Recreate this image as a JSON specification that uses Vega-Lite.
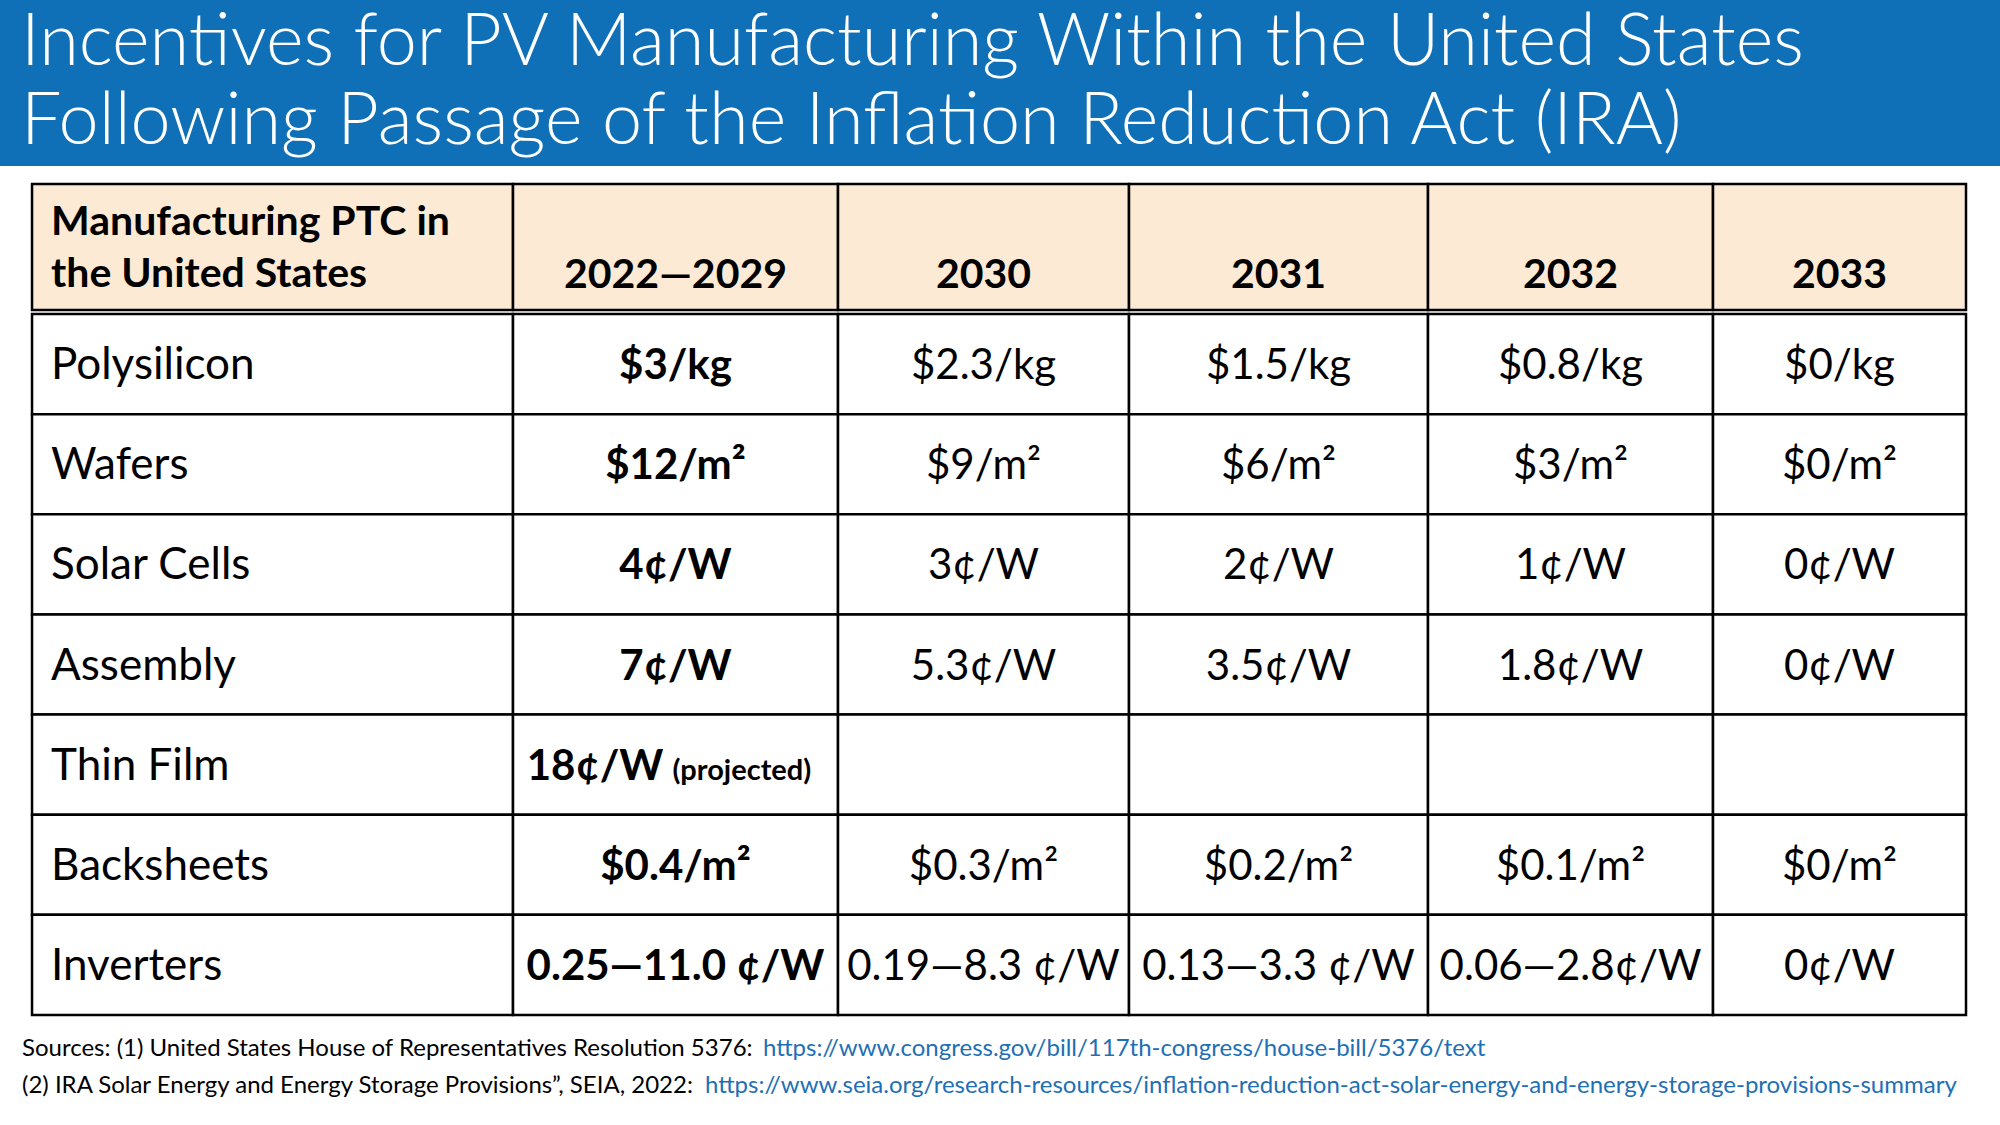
{
  "$schema": "https://vega.github.io/schema/vega-lite/v6.json",
  "padding": 0,
  "background": "white",
  "spacing": 0,
  "config": {"view": {"stroke": null}},
  "datasets": {
    "title": [
      {"line": 1, "text": "Incentives for PV Manufacturing Within the United States"},
      {"line": 2, "text": "Following Passage of the Inflation Reduction Act (IRA)"}
    ],
    "header": [
      {"col": 0, "label": "Manufacturing PTC in\nthe United States"},
      {"col": 1, "label": "2022—2029"},
      {"col": 2, "label": "2030"},
      {"col": 3, "label": "2031"},
      {"col": 4, "label": "2032"},
      {"col": 5, "label": "2033"}
    ],
    "table": [
      {"component": "Polysilicon", "period": "2022—2029", "value": "$3/kg"},
      {"component": "Wafers", "period": "2022—2029", "value": "$12/m²"},
      {"component": "Solar Cells", "period": "2022—2029", "value": "4¢/W"},
      {"component": "Assembly", "period": "2022—2029", "value": "7¢/W"},
      {"component": "Thin Film", "period": "2022—2029", "value": "18¢/W", "note": "(projected)"},
      {"component": "Backsheets", "period": "2022—2029", "value": "$0.4/m²"},
      {"component": "Inverters", "period": "2022—2029", "value": "0.25—11.0 ¢/W"},
      {"component": "Polysilicon", "period": "2030", "value": "$2.3/kg"},
      {"component": "Wafers", "period": "2030", "value": "$9/m²"},
      {"component": "Solar Cells", "period": "2030", "value": "3¢/W"},
      {"component": "Assembly", "period": "2030", "value": "5.3¢/W"},
      {"component": "Thin Film", "period": "2030", "value": ""},
      {"component": "Backsheets", "period": "2030", "value": "$0.3/m²"},
      {"component": "Inverters", "period": "2030", "value": "0.19—8.3 ¢/W"},
      {"component": "Polysilicon", "period": "2031", "value": "$1.5/kg"},
      {"component": "Wafers", "period": "2031", "value": "$6/m²"},
      {"component": "Solar Cells", "period": "2031", "value": "2¢/W"},
      {"component": "Assembly", "period": "2031", "value": "3.5¢/W"},
      {"component": "Thin Film", "period": "2031", "value": ""},
      {"component": "Backsheets", "period": "2031", "value": "$0.2/m²"},
      {"component": "Inverters", "period": "2031", "value": "0.13—3.3 ¢/W"},
      {"component": "Polysilicon", "period": "2032", "value": "$0.8/kg"},
      {"component": "Wafers", "period": "2032", "value": "$3/m²"},
      {"component": "Solar Cells", "period": "2032", "value": "1¢/W"},
      {"component": "Assembly", "period": "2032", "value": "1.8¢/W"},
      {"component": "Thin Film", "period": "2032", "value": ""},
      {"component": "Backsheets", "period": "2032", "value": "$0.1/m²"},
      {"component": "Inverters", "period": "2032", "value": "0.06—2.8¢/W"},
      {"component": "Polysilicon", "period": "2033", "value": "$0/kg"},
      {"component": "Wafers", "period": "2033", "value": "$0/m²"},
      {"component": "Solar Cells", "period": "2033", "value": "0¢/W"},
      {"component": "Assembly", "period": "2033", "value": "0¢/W"},
      {"component": "Thin Film", "period": "2033", "value": ""},
      {"component": "Backsheets", "period": "2033", "value": "$0/m²"},
      {"component": "Inverters", "period": "2033", "value": "0¢/W"}
    ],
    "notes": [
      {"line": 1, "label": "Sources: (1) United States House of Representatives Resolution 5376:", "link": "https://www.congress.gov/bill/117th-congress/house-bill/5376/text"},
      {"line": 2, "label": "(2) IRA Solar Energy and Energy Storage Provisions”, SEIA, 2022:", "link": "https://www.seia.org/research-resources/inflation-reduction-act-solar-energy-and-energy-storage-provisions-summary"}
    ]
  },
  "vconcat": [
    {
      "width": 2000,
      "height": 166,
      "view": {"fill": "#0F70B7", "stroke": null},
      "data": {"name": "title"},
      "mark": {"type": "text", "align": "left", "baseline": "alphabetic", "font": "Lato", "fontWeight": 300, "fontSize": 72, "color": "white", "x": 21, "dy": 21.5},
      "encoding": {
        "y": {"field": "line", "type": "ordinal", "axis": null, "scale": {"type": "point", "padding": 0.564}},
        "text": {"field": "text"}
      }
    },
    {
      "hconcat": [
        {
          "width": 513, "height": 144,
          "data": {"name": "header"},
          "transform": [{"filter": "datum.col == 0"}],
          "layer": [
            {"mark": {"type": "rect", "fill": "#FDEAD5", "stroke": "black", "strokeWidth": 2.5},
             "encoding": {
               "x": {"field": "col", "type": "nominal", "axis": null, "scale": {"paddingInner": 0, "paddingOuter": 0.0333, "align": 1}},
               "y": {"field": "col", "type": "nominal", "axis": null, "scale": {"paddingInner": 0, "paddingOuter": 0.0714, "align": 1}}}},
            {"mark": {"type": "text", "align": "left", "baseline": "alphabetic", "font": "Lato", "fontWeight": "bold", "fontSize": 41, "lineBreak": "\n", "lineHeight": 52, "dx": 19, "dy": -12, "color": "black"},
             "encoding": {
               "x": {"field": "col", "type": "nominal", "axis": null, "bandPosition": 0, "scale": {"paddingInner": 0, "paddingOuter": 0.0333, "align": 1}},
               "y": {"field": "col", "type": "nominal", "axis": null, "scale": {"paddingInner": 0, "paddingOuter": 0.0714, "align": 1}},
               "text": {"field": "label"}}}
          ]
        },
        {
          "width": 325, "height": 144,
          "data": {"name": "header"},
          "transform": [{"filter": "datum.col == 1"}],
          "layer": [
            {"mark": {"type": "rect", "fill": "#FDEAD5", "stroke": "black", "strokeWidth": 2.5},
             "encoding": {"y": {"field": "col", "type": "nominal", "axis": null, "scale": {"paddingInner": 0, "paddingOuter": 0.0714, "align": 1}}}},
            {"mark": {"type": "text", "align": "center", "baseline": "alphabetic", "font": "Lato", "fontWeight": "bold", "fontSize": 41, "dy": 41, "color": "black"},
             "encoding": {"y": {"field": "col", "type": "nominal", "axis": null, "scale": {"paddingInner": 0, "paddingOuter": 0.0714, "align": 1}}, "text": {"field": "label"}}}
          ]
        },
        {
          "width": 291, "height": 144,
          "data": {"name": "header"},
          "transform": [{"filter": "datum.col == 2"}],
          "layer": [
            {"mark": {"type": "rect", "fill": "#FDEAD5", "stroke": "black", "strokeWidth": 2.5},
             "encoding": {"y": {"field": "col", "type": "nominal", "axis": null, "scale": {"paddingInner": 0, "paddingOuter": 0.0714, "align": 1}}}},
            {"mark": {"type": "text", "align": "center", "baseline": "alphabetic", "font": "Lato", "fontWeight": "bold", "fontSize": 41, "dy": 41, "color": "black"},
             "encoding": {"y": {"field": "col", "type": "nominal", "axis": null, "scale": {"paddingInner": 0, "paddingOuter": 0.0714, "align": 1}}, "text": {"field": "label"}}}
          ]
        },
        {
          "width": 299, "height": 144,
          "data": {"name": "header"},
          "transform": [{"filter": "datum.col == 3"}],
          "layer": [
            {"mark": {"type": "rect", "fill": "#FDEAD5", "stroke": "black", "strokeWidth": 2.5},
             "encoding": {"y": {"field": "col", "type": "nominal", "axis": null, "scale": {"paddingInner": 0, "paddingOuter": 0.0714, "align": 1}}}},
            {"mark": {"type": "text", "align": "center", "baseline": "alphabetic", "font": "Lato", "fontWeight": "bold", "fontSize": 41, "dy": 41, "color": "black"},
             "encoding": {"y": {"field": "col", "type": "nominal", "axis": null, "scale": {"paddingInner": 0, "paddingOuter": 0.0714, "align": 1}}, "text": {"field": "label"}}}
          ]
        },
        {
          "width": 285, "height": 144,
          "data": {"name": "header"},
          "transform": [{"filter": "datum.col == 4"}],
          "layer": [
            {"mark": {"type": "rect", "fill": "#FDEAD5", "stroke": "black", "strokeWidth": 2.5},
             "encoding": {"y": {"field": "col", "type": "nominal", "axis": null, "scale": {"paddingInner": 0, "paddingOuter": 0.0714, "align": 1}}}},
            {"mark": {"type": "text", "align": "center", "baseline": "alphabetic", "font": "Lato", "fontWeight": "bold", "fontSize": 41, "dy": 41, "color": "black"},
             "encoding": {"y": {"field": "col", "type": "nominal", "axis": null, "scale": {"paddingInner": 0, "paddingOuter": 0.0714, "align": 1}}, "text": {"field": "label"}}}
          ]
        },
        {
          "width": 253, "height": 144,
          "data": {"name": "header"},
          "transform": [{"filter": "datum.col == 5"}],
          "layer": [
            {"mark": {"type": "rect", "fill": "#FDEAD5", "stroke": "black", "strokeWidth": 2.5},
             "encoding": {"y": {"field": "col", "type": "nominal", "axis": null, "scale": {"paddingInner": 0, "paddingOuter": 0.0714, "align": 1}}}},
            {"mark": {"type": "text", "align": "center", "baseline": "alphabetic", "font": "Lato", "fontWeight": "bold", "fontSize": 41, "dy": 41, "color": "black"},
             "encoding": {"y": {"field": "col", "type": "nominal", "axis": null, "scale": {"paddingInner": 0, "paddingOuter": 0.0714, "align": 1}}, "text": {"field": "label"}}}
          ]
        }
      ],
      "spacing": 0,
      "bounds": "flush"
    },
    {
      "hconcat": [
        {
          "width": 513, "height": 701,
          "data": {"name": "table"},
          "transform": [{"filter": "datum.period == '2022—2029'"}],
          "layer": [
            {"mark": {"type": "rect", "fill": "white", "stroke": "black", "strokeWidth": 2.5},
             "encoding": {
               "x": {"field": "period", "type": "nominal", "axis": null, "scale": {"paddingInner": 0, "paddingOuter": 0.0333, "align": 1}},
               "y": {"field": "component", "type": "nominal", "sort": null, "axis": null, "scale": {"paddingInner": 0, "paddingOuter": 0}}}},
            {"mark": {"type": "text", "align": "left", "baseline": "alphabetic", "font": "Lato", "fontSize": 44, "dx": 19, "dy": 15, "color": "black"},
             "encoding": {
               "x": {"field": "period", "type": "nominal", "axis": null, "bandPosition": 0, "scale": {"paddingInner": 0, "paddingOuter": 0.0333, "align": 1}},
               "y": {"field": "component", "type": "nominal", "sort": null, "axis": null, "scale": {"paddingInner": 0, "paddingOuter": 0}},
               "text": {"field": "component"}}}
          ]
        },
        {
          "width": 325, "height": 701,
          "data": {"name": "table"},
          "transform": [{"filter": "datum.period == '2022—2029'"}],
          "layer": [
            {"mark": {"type": "rect", "fill": "white", "stroke": "black", "strokeWidth": 2.5},
             "encoding": {"y": {"field": "component", "type": "nominal", "sort": null, "axis": null, "scale": {"paddingInner": 0, "paddingOuter": 0}}}},
            {"transform": [{"filter": "!datum.note"}],
             "mark": {"type": "text", "align": "center", "baseline": "alphabetic", "font": "Lato", "fontWeight": "bold", "fontSize": 42, "dy": 15, "color": "black"},
             "encoding": {"y": {"field": "component", "type": "nominal", "sort": null, "axis": null, "scale": {"paddingInner": 0, "paddingOuter": 0}}, "text": {"field": "value"}}},
            {"transform": [{"filter": "datum.note"}],
             "mark": {"type": "text", "align": "right", "baseline": "alphabetic", "font": "Lato", "fontWeight": "bold", "fontSize": 42, "dx": -12, "dy": 15, "color": "black"},
             "encoding": {"y": {"field": "component", "type": "nominal", "sort": null, "axis": null, "scale": {"paddingInner": 0, "paddingOuter": 0}}, "text": {"field": "value"}}},
            {"transform": [{"filter": "datum.note"}],
             "mark": {"type": "text", "align": "left", "baseline": "alphabetic", "font": "Lato", "fontWeight": "bold", "fontSize": 29, "dx": -3, "dy": 15, "color": "black"},
             "encoding": {"y": {"field": "component", "type": "nominal", "sort": null, "axis": null, "scale": {"paddingInner": 0, "paddingOuter": 0}}, "text": {"field": "note"}}}
          ]
        },
        {
          "width": 291, "height": 701,
          "data": {"name": "table"},
          "transform": [{"filter": "datum.period == '2030'"}],
          "layer": [
            {"mark": {"type": "rect", "fill": "white", "stroke": "black", "strokeWidth": 2.5},
             "encoding": {"y": {"field": "component", "type": "nominal", "sort": null, "axis": null, "scale": {"paddingInner": 0, "paddingOuter": 0}}}},
            {"mark": {"type": "text", "align": "center", "baseline": "alphabetic", "font": "Lato", "fontSize": 42, "dy": 15, "color": "black"},
             "encoding": {"y": {"field": "component", "type": "nominal", "sort": null, "axis": null, "scale": {"paddingInner": 0, "paddingOuter": 0}}, "text": {"field": "value"}}}
          ]
        },
        {
          "width": 299, "height": 701,
          "data": {"name": "table"},
          "transform": [{"filter": "datum.period == '2031'"}],
          "layer": [
            {"mark": {"type": "rect", "fill": "white", "stroke": "black", "strokeWidth": 2.5},
             "encoding": {"y": {"field": "component", "type": "nominal", "sort": null, "axis": null, "scale": {"paddingInner": 0, "paddingOuter": 0}}}},
            {"mark": {"type": "text", "align": "center", "baseline": "alphabetic", "font": "Lato", "fontSize": 42, "dy": 15, "color": "black"},
             "encoding": {"y": {"field": "component", "type": "nominal", "sort": null, "axis": null, "scale": {"paddingInner": 0, "paddingOuter": 0}}, "text": {"field": "value"}}}
          ]
        },
        {
          "width": 285, "height": 701,
          "data": {"name": "table"},
          "transform": [{"filter": "datum.period == '2032'"}],
          "layer": [
            {"mark": {"type": "rect", "fill": "white", "stroke": "black", "strokeWidth": 2.5},
             "encoding": {"y": {"field": "component", "type": "nominal", "sort": null, "axis": null, "scale": {"paddingInner": 0, "paddingOuter": 0}}}},
            {"mark": {"type": "text", "align": "center", "baseline": "alphabetic", "font": "Lato", "fontSize": 42, "dy": 15, "color": "black"},
             "encoding": {"y": {"field": "component", "type": "nominal", "sort": null, "axis": null, "scale": {"paddingInner": 0, "paddingOuter": 0}}, "text": {"field": "value"}}}
          ]
        },
        {
          "width": 253, "height": 701,
          "data": {"name": "table"},
          "transform": [{"filter": "datum.period == '2033'"}],
          "layer": [
            {"mark": {"type": "rect", "fill": "white", "stroke": "black", "strokeWidth": 2.5},
             "encoding": {"y": {"field": "component", "type": "nominal", "sort": null, "axis": null, "scale": {"paddingInner": 0, "paddingOuter": 0}}}},
            {"mark": {"type": "text", "align": "center", "baseline": "alphabetic", "font": "Lato", "fontSize": 42, "dy": 15, "color": "black"},
             "encoding": {"y": {"field": "component", "type": "nominal", "sort": null, "axis": null, "scale": {"paddingInner": 0, "paddingOuter": 0}}, "text": {"field": "value"}}}
          ]
        }
      ],
      "spacing": 0,
      "bounds": "flush"
    },
    {
      "width": 2000, "height": 111,
      "data": {"name": "notes"},
      "layer": [
        {"mark": {"type": "text", "align": "left", "baseline": "alphabetic", "font": "Lato", "fontSize": 24, "x": 22, "dy": 2, "color": "black"},
         "encoding": {"y": {"field": "line", "type": "ordinal", "axis": null, "scale": {"type": "point", "padding": 1.35}}, "text": {"field": "label"}}},
        {"transform": [{"filter": "datum.line == 1"}],
         "mark": {"type": "text", "align": "left", "baseline": "alphabetic", "font": "Lato", "fontSize": 24, "x": 763, "dy": 2, "color": "#1E6FB5"},
         "encoding": {"y": {"field": "line", "type": "ordinal", "axis": null, "scale": {"type": "point", "padding": 1.35}}, "text": {"field": "link"}}},
        {"transform": [{"filter": "datum.line == 2"}],
         "mark": {"type": "text", "align": "left", "baseline": "alphabetic", "font": "Lato", "fontSize": 24, "x": 705, "dy": 2, "color": "#1E6FB5"},
         "encoding": {"y": {"field": "line", "type": "ordinal", "axis": null, "scale": {"type": "point", "padding": 1.35}}, "text": {"field": "link"}}}
      ]
    }
  ]
}
